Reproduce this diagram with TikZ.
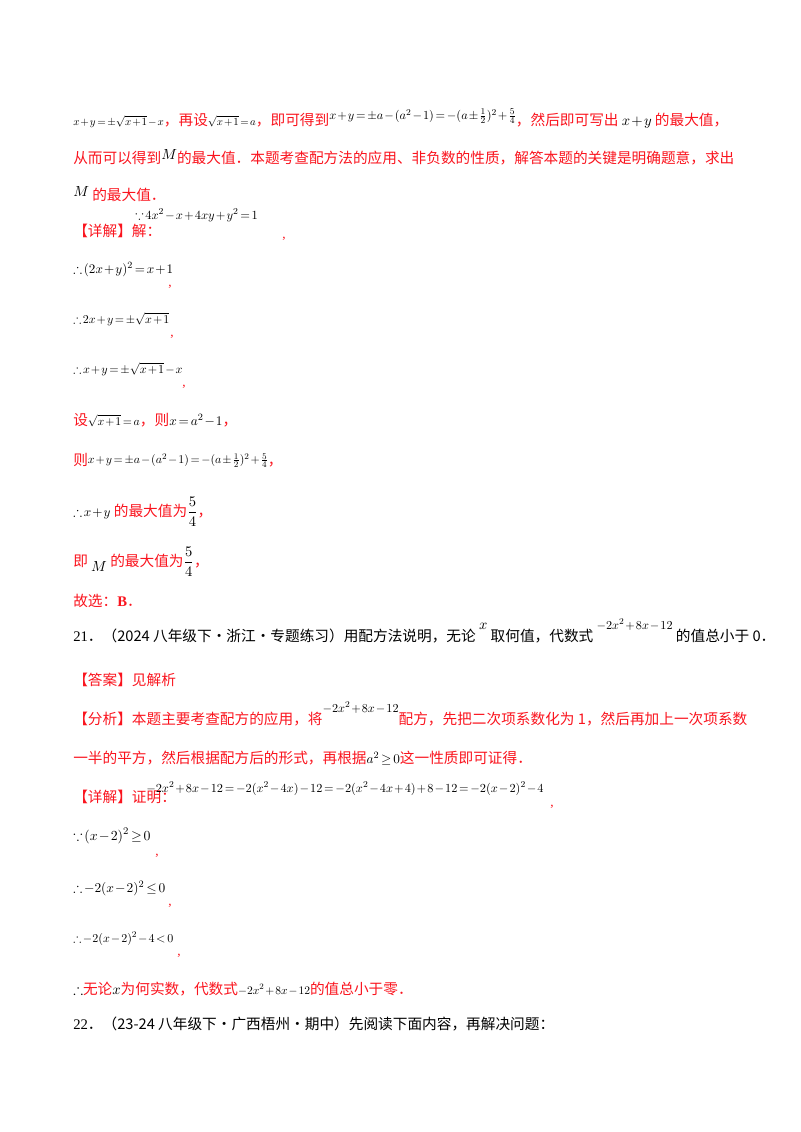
\documentclass[tikz,border=0pt]{standalone}
\usepackage{amsmath,amssymb}
\usepackage{graphicx}
\usepackage{fontspec}
\setmainfont{Liberation Serif}
\newfontfamily\cjk{Noto Sans CJK SC}
\definecolor{rd}{RGB}{250,20,30}
\newcommand{\zh}[1]{{\cjk #1}}
\newcommand{\rz}[1]{{\color{rd}\cjk #1}}
\newcommand{\fw}[2]{\resizebox{#1pt}{!}{$#2$}}
\medmuskip=1.5mu \thickmuskip=2.5mu
\begin{document}
\begin{tikzpicture}[x=0.75pt,y=-0.75pt,
 t/.style={anchor=base west,inner sep=0pt,font=\fontsize{11}{13}\selectfont},
 c/.style={anchor=base west,inner sep=0pt,font=\fontsize{10}{10}\selectfont,text=rd}]
\useasboundingbox (0,0) rectangle (800,1132);
\node[t] (l1) at (73,125) {\fw{68}{x+y=\pm\sqrt{x+1}-x}\rz{，再设}\fw{36}{\sqrt{x+1}=a}\rz{，即可得到}\raisebox{4pt}{\fw{140}{x+y=\pm a-(a^2-1)=-(a\pm\frac{1}{2})^2+\frac{5}{4}}}\rz{，然后即可写出 }$x+y$\rz{ 的最大值，}};
\node[t] (l2) at (73,163) {\rz{从而可以得到}\raisebox{3pt}{$M$}\rz{的最大值．本题考查配方法的应用、非负数的性质，解答本题的关键是明确题意，求出}};
\node[t] (l3) at (73,200) {\raisebox{3pt}{$M$}\rz{ 的最大值．}};
\node[t] (l4) at (73,236) {\rz{【详解】解：}};
\node[t] (l4m) at (135,219) {\fw{92}{\because 4x^2-x+4xy+y^2=1}};
\node[c] (l4c) at (282,238) {,};
\node[t] (l5) at (73,273) {\fw{75}{\therefore(2x+y)^2=x+1}};
\node[c] (l5c) at (168,286) {,};
\node[t] (l6) at (73,323) {\fw{72}{\therefore 2x+y=\pm\sqrt{x+1}}};
\node[c] (l6c) at (170,336) {,};
\node[t] (l7) at (73,373) {\fw{82}{\therefore x+y=\pm\sqrt{x+1}-x}};
\node[c] (l7c) at (182,386) {,};
\node[t] (l8) at (73,425) {\rz{设}\fw{39}{\sqrt{x+1}=a}\rz{，则}\fw{40}{x=a^2-1}\rz{，}};
\node[t] (l9) at (73,465) {\rz{则}\raisebox{1pt}{\fw{135}{x+y=\pm a-(a^2-1)=-(a\pm\frac{1}{2})^2+\frac{5}{4}}}\rz{，}};
\node[t] (l10) at (73,516) {\fw{28}{\therefore x+y}\rz{ 的最大值为}$\dfrac{5}{4}$\rz{，}};
\node[t] (l11) at (73,566) {\rz{即 }\raisebox{-4pt}{$M$}\rz{ 的最大值为}$\dfrac{5}{4}$\rz{，}};
\node[t] (l12) at (73,606) {\rz{故选：}\color{rd}\textbf{B}\rz{．}};
\node[t] (q21) at (73,641) {21\zh{．（2024 八年级下·浙江·专题练习）用配方法说明，无论 }\raisebox{9pt}{$x$}\zh{ 取何值，代数式 }\raisebox{9pt}{\fw{57}{-2x^2+8x-12}}\zh{ 的值总小于 0．}};
\node[t] (a21) at (73,685) {\rz{【答案】见解析}};
\node[t] (f21) at (73,724) {\rz{【分析】本题主要考查配方的应用，将}\raisebox{9pt}{\fw{57}{-2x^2+8x-12}}\rz{配方，先把二次项系数化为 1，然后再加上一次项系数}};
\node[t] (f22) at (73,763) {\rz{一半的平方，然后根据配方后的形式，再根据}\fw{25}{a^2\geq 0}\rz{这一性质即可证得．}};
\node[t] (d21) at (73,802) {\rz{【详解】证明：}};
\node[t] (d21m) at (146,792) {\fw{298}{-2x^2+8x-12=-2(x^2-4x)-12=-2(x^2-4x+4)+8-12=-2(x-2)^2-4}};
\node[c] (d21c) at (550,806) {,};
\node[t] (e1) at (73,840) {\fw{58}{\because(x-2)^2\geq 0}};
\node[c] (e1c) at (155,855) {,};
\node[t] (e2) at (73,892) {\fw{69}{\therefore -2(x-2)^2\leq 0}};
\node[c] (e2c) at (168,905) {,};
\node[t] (e3) at (73,942) {\fw{75}{\therefore -2(x-2)^2-4<0}};
\node[c] (e3c) at (177,955) {,};
\node[t] (e4) at (73,994) {$\therefore$\rz{无论}$x$\rz{为何实数，代数式}\fw{54}{-2x^2+8x-12}\rz{的值总小于零．}};
\node[t] (q22) at (73,1029) {22\zh{．（23-24 八年级下·广西梧州·期中）先阅读下面内容，再解决问题：}};
\end{tikzpicture}
\end{document}
